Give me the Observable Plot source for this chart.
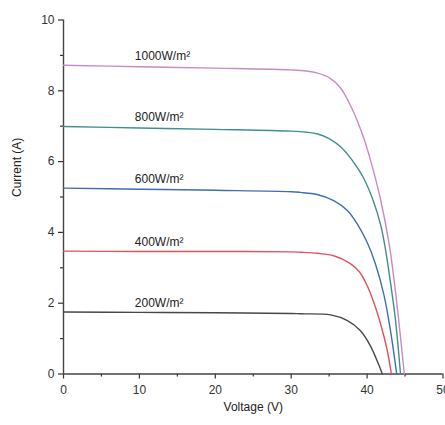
<!DOCTYPE html>
<html>
<head>
<meta charset="utf-8">
<script src="https://cdn.jsdelivr.net/npm/d3@7"></script>
<script src="https://cdn.jsdelivr.net/npm/@observablehq/plot@0.6"></script>
<style>
  html, body { margin: 0; padding: 0; background: #fff; }
  #chart { width: 445px; height: 425px; overflow: hidden; }
</style>
</head>
<body>
<div id="chart"></div>
<script>
// ---- data ----
const seriesNames = ["1000W/m²", "800W/m²", "600W/m²", "400W/m²", "200W/m²"];

const voltage1000 = [0, 10, 20, 30, 32, 33.5, 35, 36.5, 38, 39.5, 40.5, 41.7, 42.9, 43.5, 44.2, 44.9];
const current1000 = [8.72, 8.68, 8.64, 8.59, 8.56, 8.50, 8.37, 8.08, 7.50, 6.70, 6.00, 5.00, 3.68, 2.75, 1.45, 0];

const voltage800 = [0, 10, 20, 30, 32, 33.5, 35, 36.5, 38, 39.5, 40.8, 41.8, 42.4, 42.9, 43.7, 44.4];
const current800 = [6.99, 6.95, 6.91, 6.86, 6.83, 6.78, 6.65, 6.42, 6.05, 5.55, 4.90, 4.20, 3.55, 2.85, 1.60, 0];

const voltage600 = [0, 10, 20, 30, 31.2, 33.4, 35.6, 37.4, 38.7, 40.0, 41.1, 42.2, 43.1, 43.9];
const current600 = [5.25, 5.22, 5.19, 5.15, 5.13, 5.07, 4.90, 4.62, 4.24, 3.72, 3.11, 2.25, 1.20, 0];

const voltage400 = [0, 10, 20, 30, 31.2, 33.5, 35.6, 37.8, 39.0, 40.0, 41.0, 41.8, 42.6, 43.2];
const current400 = [3.47, 3.46, 3.46, 3.45, 3.44, 3.41, 3.34, 3.12, 2.88, 2.50, 1.95, 1.40, 0.72, 0];

const voltage200 = [0, 10, 20, 30, 31.2, 35.2, 37.4, 39.1, 40.4, 41.5, 42.0];
const current200 = [1.75, 1.74, 1.73, 1.71, 1.70, 1.67, 1.51, 1.23, 0.81, 0.28, 0];

const voltages = [voltage1000, voltage800, voltage600, voltage400, voltage200];
const currents = [current1000, current800, current600, current400, current200];

const xMajorTicks = [0, 10, 20, 30, 40, 50];
const xMinorTicks = [5, 15, 25, 35, 45];
const yMajorTicks = [0, 2, 4, 6, 8, 10];
const yMinorTicks = [1, 3, 5, 7, 9];

const xTitle = "Voltage (V)";
const yTitle = "Current (A)";
const labelVoltage = 9.4;

// ---- build tables ----
const rows = [];
seriesNames.forEach((name, s) => {
  voltages[s].forEach((v, i) => rows.push({series: name, V: v, I: currents[s][i]}));
});
const labelRows = seriesNames.map((name, s) => ({series: name, V: labelVoltage, I: currents[s][0]}));

const colors = ["#c88bc6", "#3f8f8f", "#3f6fae", "#e4505e", "#474747"];

const chart = Plot.plot({
  width: 445,
  height: 425,
  marginLeft: 63,
  marginRight: 2.5,
  marginTop: 19.5,
  marginBottom: 51.5,
  style: {fontFamily: "'Liberation Sans', Arial, sans-serif", fontSize: "12px", color: "#333", background: "#fff"},
  x: {domain: [0, 50]},
  y: {domain: [0, 10]},
  color: {domain: seriesNames, range: colors},
  marks: [
    Plot.axisY({ticks: yMajorTicks, tickSize: 5, tickPadding: 4, label: null, strokeWidth: 1.2}),
    Plot.axisY({ticks: yMinorTicks, tickSize: 3, tickFormat: () => "", label: null, strokeWidth: 1.2}),
    Plot.axisX({ticks: xMajorTicks, tickSize: 5, tickPadding: 6, label: null, strokeWidth: 1.2}),
    Plot.axisX({ticks: xMinorTicks, tickSize: 3, tickFormat: () => "", label: null, strokeWidth: 1.2}),
    Plot.ruleX([0], {stroke: "#444", strokeWidth: 1.4}),
    Plot.ruleY([0], {stroke: "#444", strokeWidth: 1.4}),
    Plot.line(rows, {x: "V", y: "I", z: "series", stroke: "series", curve: "catmull-rom", strokeWidth: 1.4}),
    Plot.text(labelRows, {x: "V", y: "I", text: "series", textAnchor: "start", dy: -9, fill: "#222", fontSize: 12, letterSpacing: "-0.3px"}),
    Plot.text([xTitle], {text: d => d, frameAnchor: "bottom", dy: 37, fill: "#222", fontSize: 12}),
    Plot.text([yTitle], {text: d => d, frameAnchor: "left", dx: -46, rotate: -90, fill: "#222", fontSize: 12})
  ]
});
document.getElementById("chart").appendChild(chart);
</script>
</body>
</html>
